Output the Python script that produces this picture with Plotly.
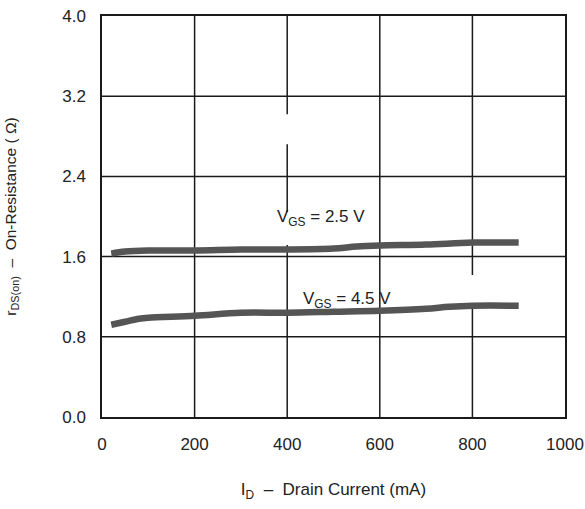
import plotly.graph_objects as go

# Data
id_25 = [20, 50, 100, 200, 300, 400, 500, 550, 600, 700, 800, 900]
r_25 = [1.63, 1.65, 1.66, 1.66, 1.67, 1.67, 1.68, 1.70, 1.71, 1.72, 1.74, 1.74]

id_45 = [20, 50, 80, 100, 200, 300, 400, 500, 600, 700, 750, 800, 900]
r_45 = [0.92, 0.95, 0.98, 0.99, 1.01, 1.04, 1.04, 1.05, 1.06, 1.08, 1.10, 1.11, 1.11]

x_ticks = [0, 200, 400, 600, 800, 1000]
y_ticks = [0.0, 0.8, 1.6, 2.4, 3.2, 4.0]
y_tick_text = ["0.0", "0.8", "1.6", "2.4", "3.2", "4.0"]

# grid line segments (value, [(y0, y1), ...]) - reference grid has small breaks
v_grid = {200: [(0, 4)], 400: [(0, 1.716), (2.045, 2.72), (3.02, 4)],
          600: [(0, 4)], 800: [(0, 1.117), (1.416, 4)]}
h_grid = [0.8, 1.6, 2.4, 3.2]

font = "Liberation Sans, Arial, sans-serif"
line_color = "#555555"
grid_color = "#1a1a1a"
fs = 17

fig = go.Figure()
fig.add_trace(go.Scatter(x=id_25, y=r_25, mode="lines",
                         line=dict(color=line_color, width=6.5, shape="spline"),
                         showlegend=False))
fig.add_trace(go.Scatter(x=id_45, y=r_45, mode="lines",
                         line=dict(color=line_color, width=6.5, shape="spline"),
                         showlegend=False))

shapes = []
for xv, segs in v_grid.items():
    for y0, y1 in segs:
        shapes.append(dict(type="line", xref="x", yref="y", x0=xv, x1=xv, y0=y0, y1=y1,
                           line=dict(color=grid_color, width=1.5), layer="below"))
for yv in h_grid:
    shapes.append(dict(type="line", xref="x", yref="y", x0=0, x1=1000, y0=yv, y1=yv,
                       line=dict(color=grid_color, width=1.5), layer="below"))

annotations = [
    dict(x=472, y=1.985, xref="x", yref="y", showarrow=False,
         text="V<sub>GS</sub> = 2.5 V", font=dict(family=font, size=fs, color="#222")),
    dict(x=529, y=1.167, xref="x", yref="y", showarrow=False,
         text="V<sub>GS</sub> = 4.5 V", font=dict(family=font, size=fs, color="#222")),
]

fig.update_layout(
    width=585, height=509,
    margin=dict(l=102, r=20, t=16, b=92, autoexpand=False),
    paper_bgcolor="white", plot_bgcolor="white",
    font=dict(family=font, size=fs, color="#222"),
    shapes=shapes, annotations=annotations,
    xaxis=dict(range=[0, 1000], tickvals=x_ticks, showgrid=False, zeroline=False,
               showline=True, mirror=True, linecolor=grid_color, linewidth=1.5,
               ticks="", ticklabelstandoff=11, automargin=False,
               title=dict(text="I<sub>D</sub>  –  Drain Current (mA)", standoff=30,
                          font=dict(size=fs))),
    yaxis=dict(range=[0, 4], tickvals=y_ticks, ticktext=y_tick_text, showgrid=False,
               zeroline=False, showline=True, mirror=True, linecolor=grid_color,
               linewidth=1.5, ticks="", ticklabelstandoff=11, automargin=False,
               title=dict(text="r<sub>DS(on)</sub>  –  On-Resistance ( Ω)", standoff=42,
                          font=dict(size=15.5))),
)

fig.write_html("out.html")
